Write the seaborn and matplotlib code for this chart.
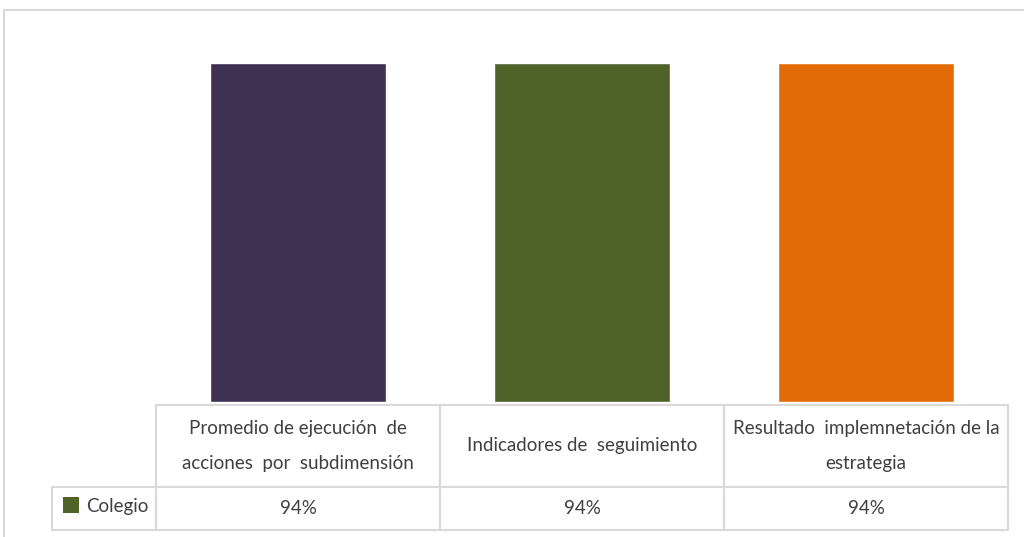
import pandas as pd
import matplotlib
matplotlib.use("Agg")
import matplotlib.pyplot as plt
import seaborn as sns
from matplotlib.patches import Patch, Rectangle

# Data
categories = [
    "Promedio de ejecución  de\nacciones  por  subdimensión",
    "Indicadores de  seguimiento",
    "Resultado  implemnetación de la\nestrategia",
]
values = [0.94, 0.94, 0.94]
series_name = "Colegio"
bar_colors = ["#3F3151", "#4F6228", "#E36C09"]

df = pd.DataFrame({"categoria": categories, "valor": values})

sns.set_theme(style="white")
plt.rcParams["font.family"] = ["Lato", "DejaVu Sans"]
text_color = "#404040"
grid_color = "#D9D9D9"
fsize = 13.5

fig = plt.figure(figsize=(10.24, 5.37), dpi=100)
ax = fig.add_axes([156 / 1024, 135 / 537, 852 / 1024, 361 / 537])

sns.barplot(data=df, x="categoria", y="valor", hue="categoria",
            palette=bar_colors, width=0.623, legend=False, ax=ax,
            saturation=1)
ax.set_ylim(0, 1)
ax.set_xlim(-0.5, len(categories) - 0.5)
ax.set_xticks([])
ax.set_yticks([])
ax.set_xlabel("")
ax.set_ylabel("")
for s in ax.spines.values():
    s.set_visible(False)

# Data table below the bars (first column holds the series key)
cell_text = [[""] + [f"{v:.0%}" for v in values]]
tbl = ax.table(cellText=cell_text, colLabels=[""] + categories,
               cellLoc="center",
               bbox=[-104 / 852, -128 / 361, 956 / 852, 125 / 361])
tbl.auto_set_font_size(False)
for (r, c), cell in tbl.get_celld().items():
    cell.set_edgecolor(grid_color)
    cell.set_linewidth(1.5)
    cell.get_text().set_fontsize(fsize)
    cell.get_text().set_color(text_color)
    cell.set_height(82 if r == 0 else 43)
    cell.set_width(104 if c == 0 else 284)
    if r == 0:
        cell.get_text().set_linespacing(2.3)
tbl[0, 0].visible_edges = ""

# Legend key inside the first column
ax.legend(handles=[Patch(facecolor=bar_colors[1], edgecolor="none")],
          labels=[series_name], loc="center left",
          bbox_to_anchor=(-93 / 852, -104 / 361), frameon=False,
          handlelength=0.85, handleheight=0.9, handletextpad=0.4,
          borderaxespad=0, borderpad=0,
          prop={"size": fsize}, labelcolor=text_color)

# Chart-area border
fig.patches.append(Rectangle((4 / 1024, -0.05), 1.1, 1 - 10 / 537 + 0.05,
                             transform=fig.transFigure, fill=False,
                             edgecolor=grid_color, linewidth=1.5))

fig.savefig("out.png", dpi=100, facecolor="white")
